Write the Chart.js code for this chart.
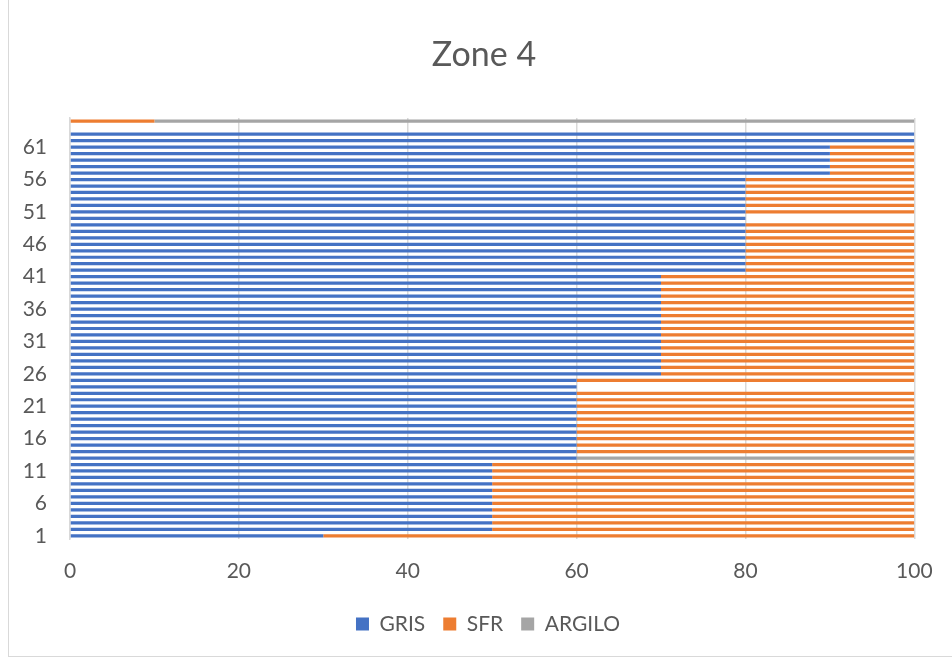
<!DOCTYPE html>
<html>
<head>
<meta charset="utf-8">
<script src="https://cdn.jsdelivr.net/npm/chart.js@4"></script>
<style>
  body { margin: 0; background: #fff; }
  #wrap { position: relative; width: 952px; height: 659px; overflow: hidden; }
  #frame { position: absolute; left: 8px; top: -1px; width: 960px; height: 656px;
           border: 1px solid #d9d9d9; pointer-events: none; }
</style>
</head>
<body>
<div id="wrap">
  <canvas id="chart" width="952" height="659"></canvas>
  <div id="frame"></div>
</div>
<script>
const categories = [
  '1', '2', '3', '4', '5', '6', '7', '8', '9', '10',
  '11', '12', '13', '14', '15', '16', '17', '18', '19', '20',
  '21', '22', '23', '24', '25', '26', '27', '28', '29', '30',
  '31', '32', '33', '34', '35', '36', '37', '38', '39', '40',
  '41', '42', '43', '44', '45', '46', '47', '48', '49', '50',
  '51', '52', '53', '54', '55', '56', '57', '58', '59', '60',
  '61', '62', '63', '64', '65'
];

const gris = [
  30, 50, 50, 50, 50, 50, 50, 50, 50, 50,
  50, 50, 60, 60, 60, 60, 60, 60, 60, 60,
  60, 60, 60, 60, 60, 70, 70, 70, 70, 70,
  70, 70, 70, 70, 70, 70, 70, 70, 70, 70,
  70, 80, 80, 80, 80, 80, 80, 80, 80, 80,
  80, 80, 80, 80, 80, 80, 90, 90, 90, 90,
  90, 100, 100, 0, 0
];

const sfr = [
  70, 50, 50, 50, 50, 50, 50, 50, 50, 50,
  50, 50, 0, 40, 40, 40, 40, 40, 40, 40,
  40, 40, 40, 0, 40, 30, 30, 30, 30, 30,
  30, 30, 30, 30, 30, 30, 30, 30, 30, 30,
  30, 20, 20, 20, 20, 20, 20, 20, 20, 0,
  20, 20, 20, 20, 20, 20, 10, 10, 10, 10,
  10, 0, 0, 0, 10
];

const argilo = [
  0, 0, 0, 0, 0, 0, 0, 0, 0, 0,
  0, 0, 40, 0, 0, 0, 0, 0, 0, 0,
  0, 0, 0, 0, 0, 0, 0, 0, 0, 0,
  0, 0, 0, 0, 0, 0, 0, 0, 0, 0,
  0, 0, 0, 0, 0, 0, 0, 0, 0, 0,
  0, 0, 0, 0, 0, 0, 0, 0, 0, 0,
  0, 0, 0, 0, 90
];

const xTicks = [0, 20, 40, 60, 80, 100];

const textColor = '#595959';
const fontFamily = 'Lato, "Open Sans", sans-serif';

// title and legend are centred on the framed chart, not on the canvas
const centreShift = {
  id: 'centreShift',
  afterLayout(chart) {
    chart.titleBlock.left += 51;
    chart.legend.left += 59;
  }
};

const ctx = document.getElementById('chart').getContext('2d');

const chart = new Chart(ctx, {
  type: 'bar',
  data: {
    labels: categories,
    datasets: [
      { label: 'GRIS', data: gris, backgroundColor: '#4472C4' },
      { label: 'SFR', data: sfr, backgroundColor: '#ED7D31' },
      { label: 'ARGILO', data: argilo, backgroundColor: '#A5A5A5' }
    ]
  },
  plugins: [centreShift],
  options: {
    indexAxis: 'y',
    responsive: false,
    maintainAspectRatio: false,
    animation: false,
    datasets: {
      bar: { categoryPercentage: 0.5, barPercentage: 1, borderWidth: 0 }
    },
    layout: {
      padding: { left: 0, right: 35, top: 0, bottom: 14.5 }
    },
    plugins: {
      title: {
        display: true,
        text: 'Zone 4',
        color: textColor,
        font: { family: fontFamily, size: 34, weight: 'normal' },
        padding: { top: 34.6, bottom: 42.6 }
      },
      legend: {
        position: 'bottom',
        labels: {
          color: textColor,
          font: { family: fontFamily, size: 21 },
          boxWidth: 13,
          boxHeight: 13,
          padding: 18
        }
      },
      tooltip: { enabled: false }
    },
    scales: {
      x: {
        stacked: true,
        min: 0,
        max: 100,
        afterBuildTicks: axis => { axis.ticks = xTicks.map(v => ({ value: v })); },
        afterFit: axis => { axis.height = 56.5; },
        grid: { color: '#d9d9d9', lineWidth: 1.5, drawTicks: false },
        border: { display: false },
        ticks: {
          color: textColor,
          font: { family: fontFamily, size: 21 },
          padding: 19.4
        }
      },
      y: {
        stacked: true,
        reverse: true,
        afterFit: axis => { axis.width = 70; },
        grid: { display: false, drawTicks: false },
        border: { display: true, color: '#d9d9d9', width: 1.5 },
        ticks: {
          autoSkip: false,
          color: textColor,
          font: { family: fontFamily, size: 21 },
          padding: 23,
          callback: (v, i) => (i % 5 === 0 ? categories[i] : '')
        }
      }
    }
  }
});
</script>
</body>
</html>
